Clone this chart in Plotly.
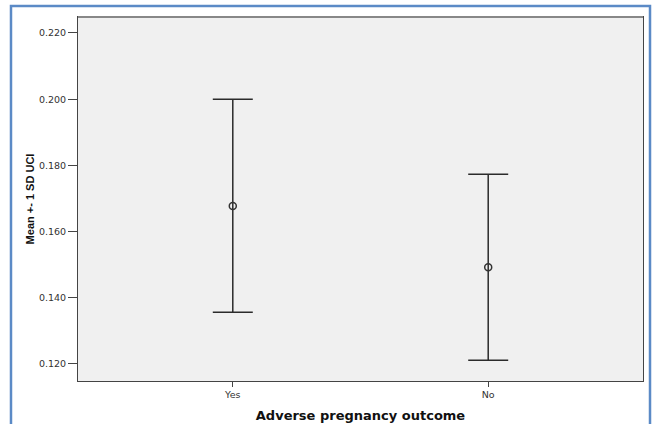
import plotly.graph_objects as go

categories = ["Yes", "No"]
means = [0.1677, 0.1492]
upper = [0.2000, 0.1773]
lower = [0.1356, 0.1211]
y_ticks = [0.120, 0.140, 0.160, 0.180, 0.200, 0.220]

err_plus = [u - m for u, m in zip(upper, means)]
err_minus = [m - l for m, l in zip(means, lower)]

fig = go.Figure()
fig.add_trace(go.Scatter(
    x=categories, y=means, mode="markers",
    marker=dict(symbol="circle-open", size=7, color="#333333", line=dict(width=1.5, color="#333333")),
    error_y=dict(type="data", symmetric=False, array=err_plus, arrayminus=err_minus,
                 color="#2b2b2b", thickness=1.5, width=20),
    showlegend=False,
))

fig.update_layout(
    width=657, height=424,
    margin=dict(l=78, r=14, t=17, b=43),
    paper_bgcolor="white",
    plot_bgcolor="#f0f0f0",
    font=dict(family="DejaVu Sans, sans-serif", color="#222222"),
    xaxis=dict(
        type="category", range=[-0.606, 1.606], automargin=False,
        showline=True, mirror=True, linecolor="#444444", linewidth=1,
        ticks="outside", ticklen=5, tickcolor="#444444",
        tickfont=dict(size=9.5, color="#333333"),
        showgrid=False, zeroline=False,
        title=dict(text="<b>Adverse pregnancy outcome</b>", font=dict(size=13, color="#111111"), standoff=11),
    ),
    yaxis=dict(
        range=[0.11486, 0.22483], automargin=False,
        tickvals=y_ticks, ticktext=[f"{v:.3f}" for v in y_ticks],
        showline=True, mirror=True, linecolor="#444444", linewidth=1,
        ticks="outside", ticklen=9, tickcolor="#444444",
        tickfont=dict(size=9.5, color="#333333"),
        showgrid=False, zeroline=False,
        title=dict(text="<b>Mean +- 1 SD UCI</b>",
                   font=dict(family="Liberation Sans, Arial, sans-serif", size=11, color="#111111"), standoff=2),
    ),
    shapes=[
        dict(type="rect", xref="paper", yref="paper", x0=-0.1186, x1=1.0124, y0=-0.2, y1=1.0302,
             line=dict(color="#5b8ac6", width=2.5), fillcolor="rgba(0,0,0,0)", layer="below"),
        dict(type="line", xref="paper", yref="paper", x0=0, x1=1, y0=1, y1=1,
             line=dict(color="#888888", width=2)),
    ],
)

fig.write_html("out.html", config={"displayModeBar": False},
               post_script="document.body.style.margin='0px';document.body.style.overflow='hidden';")
